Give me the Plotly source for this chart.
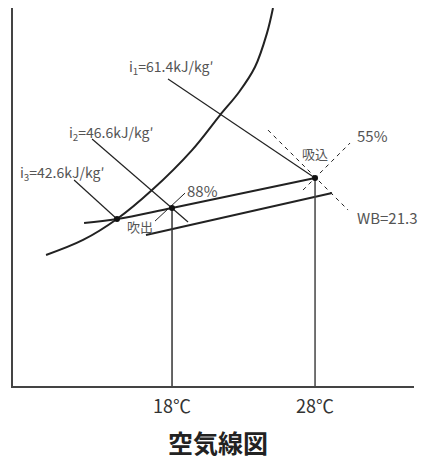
import plotly.graph_objects as go

# saturation curve (x: dry bulb C, y: absolute humidity, arbitrary scale)
sat_x = [25.06, 24.64, 23.80, 22.69, 21.36, 19.40, 16.60, 14.15, 11.78, 9.19]
sat_y = [23.63, 22.06, 19.94, 18.38, 16.94, 14.75, 12.25, 10.44, 9.13, 8.19]

# process line (blow-out -> suction) and the parallel line below
proc_x = [11.85, 14.15, 18.0, 28.0]
proc_y = [10.19, 10.44, 11.13, 13.0]
lower_x = [16.18, 29.19]
lower_y = [9.44, 12.06]

# enthalpy lines
i1_x, i1_y = [17.72, 28.0], [19.19, 13.0]
i2_x, i2_y = [12.41, 19.12], [15.44, 10.25]
i3_x, i3_y = [11.15, 14.15], [12.88, 10.44]

# dashed lines through suction point
rh55_x, rh55_y = [27.16, 30.45], [12.25, 15.19]
wb_x, wb_y = [24.71, 30.31], [16.0, 11.0]

# leader line for 88% / 吹出
lead_x, lead_y = [16.81, 18.91], [10.31, 12.06]

# state points
pt_x = [14.15, 18.0, 28.0]
pt_y = [10.44, 11.13, 13.0]

tick_vals = [18, 28]
tick_text = ["18℃", "28℃"]

FONT = "Noto Sans CJK JP"
DARK = "#222"
GREY = "#555"

fig = go.Figure()


def line(x, y, width=1.2, color=DARK, dash="solid", shape="linear"):
    fig.add_trace(go.Scatter(x=x, y=y, mode="lines", cliponaxis=False,
                             line=dict(color=color, width=width, dash=dash, shape=shape),
                             hoverinfo="skip"))


line(sat_x, sat_y, width=2, shape="spline")
line(proc_x, proc_y, width=2, shape="spline")
line(lower_x, lower_y, width=2)
line(i1_x, i1_y)
line(i2_x, i2_y)
line(i3_x, i3_y)
line(rh55_x, rh55_y, width=1, dash="4px,4px")
line(wb_x, wb_y, width=1, dash="4px,4px")
line(lead_x, lead_y, width=1)
line([18, 18], [0, 11.13], width=1.5, color="#333")
line([28, 28], [0, 13.0], width=1.5, color="#444")

fig.add_trace(go.Scatter(x=pt_x, y=pt_y, mode="markers", cliponaxis=False,
                         marker=dict(color="#111", size=6), hoverinfo="skip"))

labels = [
    (14.85, 19.94, "left", "i<sub>1</sub>=61.4kJ/kg′", 14),
    (10.66, 15.81, "left", "i<sub>2</sub>=46.6kJ/kg′", 14),
    (7.23, 13.31, "left", "i<sub>3</sub>=42.6kJ/kg′", 14),
    (18.91, 12.25, "left", "88%", 15),
    (15.76, 10.0, "center", "吹出", 13),
    (28.0, 14.56, "center", "吸込", 13),
    (30.8, 15.69, "left", "55%", 15),
    (30.8, 10.56, "left", "WB=21.3", 15),
]
for x, y, anchor, text, size in labels:
    fig.add_annotation(x=x, y=y, text=text, showarrow=False, xanchor=anchor,
                       yanchor="middle", font=dict(family=FONT, size=size, color=GREY))

# page body adds an 8px margin, so the figure is 8px smaller than the window
fig.update_layout(
    width=420, height=453,
    margin=dict(l=5, r=14, t=0, b=75, autoexpand=False),
    paper_bgcolor="white", plot_bgcolor="white",
    showlegend=False,
    title=dict(text="<b>空気線図</b>", x=0.5, xanchor="center", y=0.036, yanchor="middle",
               font=dict(family=FONT, size=25, color="#222")),
    xaxis=dict(range=[6.88, 34.92], showgrid=False, zeroline=False,
               showline=True, linecolor="#444", linewidth=1.5,
               tickvals=tick_vals, ticktext=tick_text, ticks="outside",
               ticklen=4, tickcolor="rgba(0,0,0,0)",
               tickfont=dict(family=FONT, size=18, color="#333")),
    yaxis=dict(range=[0, 23.63], showgrid=False, zeroline=False,
               showline=True, linecolor="#444", linewidth=1.5,
               showticklabels=False, ticks=""),
)

fig.write_html("out.html")
